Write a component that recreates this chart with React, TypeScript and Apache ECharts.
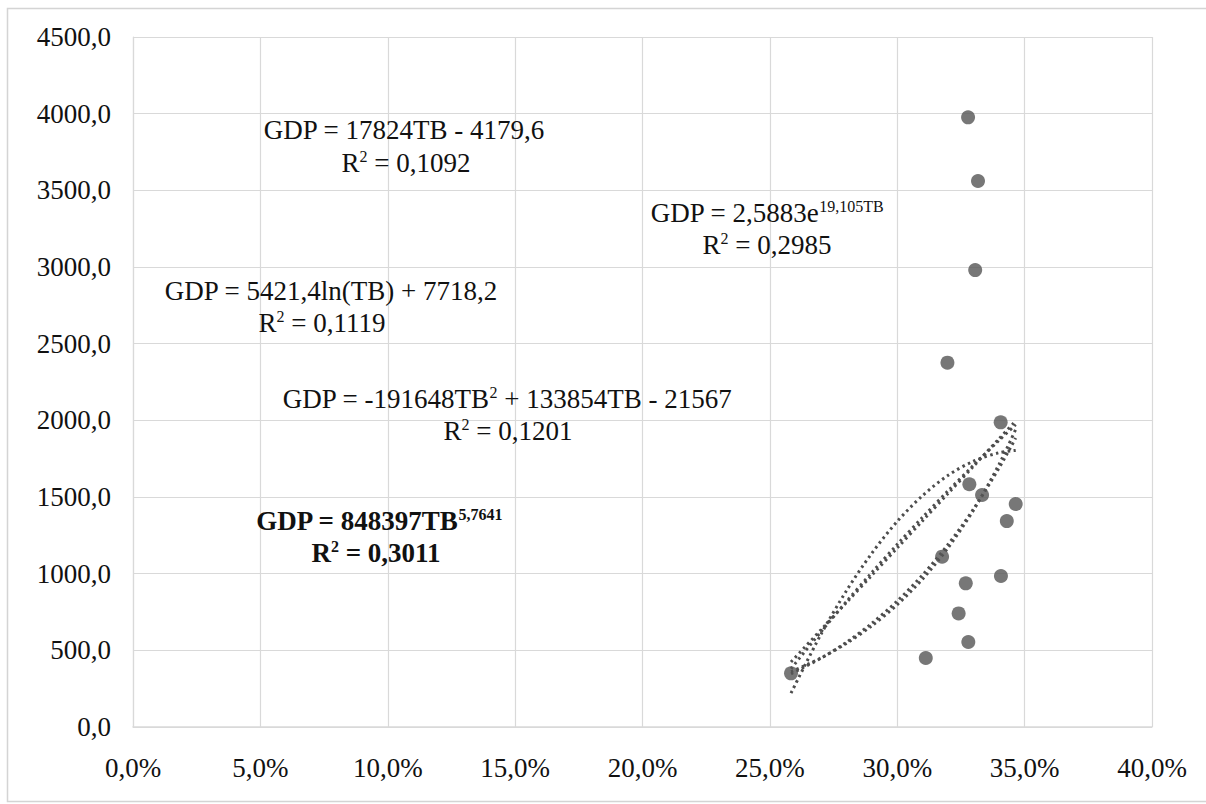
import React, { useEffect, useRef } from "react";
import * as echarts from "echarts";

// Observed data points (TB share, GDP)
const tbValues = [0.2583, 0.3112, 0.3279, 0.3241, 0.3269, 0.3407, 0.3176, 0.343, 0.3465, 0.3333, 0.3283, 0.3406, 0.3197, 0.3278, 0.3317, 0.3306];
const gdpValues = [350, 450, 554, 741, 937, 985, 1111, 1343, 1454, 1513, 1583, 1987, 2376, 3976, 3561, 2980];

// Trendline samples
const trendX = [0.2583, 0.27, 0.28, 0.29, 0.3, 0.31, 0.32, 0.33, 0.34, 0.3465];
const linearY = [424, 633, 811, 989, 1168, 1346, 1524, 1702, 1881, 1996];
const logY = [380, 620, 817, 1007, 1191, 1369, 1541, 1708, 1870, 1972];
const expY = [360, 450, 545, 660, 798, 966, 1170, 1416, 1714, 1941];
const polyY = [221, 603, 887, 1133, 1341, 1510, 1642, 1734, 1789, 1804];
const powerY = [347, 448, 552, 676, 822, 993, 1192, 1423, 1690, 1885];

// Axis ticks
const xTicksMax = 0.4;
const xTickStep = 0.05;
const yTicksMax = 4500;
const yTickStep = 500;

const FONT = "Liberation Serif";
const TEXT_COLOR = "#111";
const GRID_COLOR = "#d9d9d9";
const MARK_COLOR = "#555555";

export default function App() {
  const ref = useRef<HTMLDivElement>(null);

  useEffect(() => {
    if (!ref.current) return;
    const chart = echarts.init(ref.current, undefined, { renderer: "svg" });

    const zip = (xs: number[], ys: number[]) => xs.map((x, i) => [x, ys[i]]);
    const trendStyle = {
      type: [2.5, 3.5] as number[],
      width: 3,
      color: "#4d4d4d",
      cap: "butt" as const,
    };
    const trend = (name: string, ys: number[]) => ({
      name,
      type: "line",
      data: zip(trendX, ys),
      smooth: 0.3,
      showSymbol: false,
      symbol: "none",
      lineStyle: trendStyle,
      z: 2,
    });

    const rich = (bold: boolean) => ({
      m: { fontFamily: FONT, fontSize: 27, fontWeight: bold ? "bold" : "normal", fill: TEXT_COLOR, lineHeight: 30 },
      s: { fontFamily: FONT, fontSize: 16, fontWeight: bold ? "bold" : "normal", fill: TEXT_COLOR, verticalAlign: "top", lineHeight: 30 },
    });

    const label = (x: number, y: number, text: string, bold = false) => ({
      type: "text",
      x,
      y,
      z: 10,
      style: {
        text,
        rich: rich(bold),
        align: "center",
        verticalAlign: "middle",
        fontFamily: FONT,
        fontSize: 27,
      },
    });

    chart.setOption({
      animation: false,
      backgroundColor: "#ffffff",
      textStyle: { fontFamily: FONT },
      grid: { left: 133, right: 54, top: 37, bottom: 77, containLabel: false },
      xAxis: {
        type: "value",
        min: 0,
        max: xTicksMax,
        interval: xTickStep,
        axisLine: { show: true, lineStyle: { color: GRID_COLOR, width: 1.5 } },
        axisTick: { show: false },
        splitLine: { show: true, lineStyle: { color: GRID_COLOR, width: 1.2 } },
        axisLabel: {
          margin: 27,
          fontFamily: FONT,
          fontSize: 27,
          color: TEXT_COLOR,
          formatter: (v: number) => (v * 100).toFixed(1).replace(".", ",") + "%",
        },
      },
      yAxis: {
        type: "value",
        min: 0,
        max: yTicksMax,
        interval: yTickStep,
        axisLine: { show: true, lineStyle: { color: GRID_COLOR, width: 1.2 } },
        axisTick: { show: false },
        splitLine: { show: true, lineStyle: { color: GRID_COLOR, width: 1.2 } },
        axisLabel: {
          margin: 22,
          fontFamily: FONT,
          fontSize: 27,
          color: TEXT_COLOR,
          formatter: (v: number) => v.toFixed(1).replace(".", ","),
        },
      },
      series: [
        trend("Linear", linearY),
        trend("Log", logY),
        trend("Exponential", expY),
        trend("Polynomial", polyY),
        trend("Power", powerY),
        {
          name: "GDP",
          type: "scatter",
          data: zip(tbValues, gdpValues),
          symbol: "circle",
          symbolSize: 14,
          itemStyle: { color: MARK_COLOR },
          z: 5,
        },
      ],
      graphic: [
        {
          type: "rect",
          silent: true,
          z: -1,
          shape: { x: 7.5, y: 8.5, width: 1220, height: 793 },
          style: { fill: "none", stroke: "#d4d4d4", lineWidth: 1.5 },
        },
        label(404, 130, "{m|GDP = 17824TB - 4179,6}"),
        label(406, 163, "{m|R}{s|2}{m| = 0,1092}"),
        label(767, 213, "{m|GDP = 2,5883e}{s|19,105TB}"),
        label(767, 245, "{m|R}{s|2}{m| = 0,2985}"),
        label(331, 291, "{m|GDP = 5421,4ln(TB) + 7718,2}"),
        label(322, 323, "{m|R}{s|2}{m| = 0,1119}"),
        label(507, 399, "{m|GDP = -191648TB}{s|2}{m| + 133854TB - 21567}"),
        label(508, 431, "{m|R}{s|2}{m| = 0,1201}"),
        label(379, 521, "{m|GDP = 848397TB}{s|5,7641}", true),
        label(376, 553, "{m|R}{s|2}{m| = 0,3011}", true),
      ],
    });

    return () => chart.dispose();
  }, []);

  return (
    <div
      ref={ref}
      style={{ position: "absolute", left: 0, top: 0, width: 1206, height: 804 }}
    />
  );
}
